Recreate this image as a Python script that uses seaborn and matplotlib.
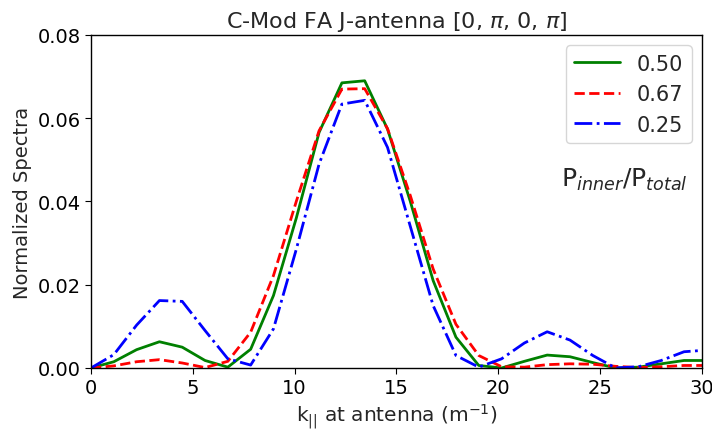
import matplotlib
matplotlib.use("Agg")
import matplotlib.pyplot as plt
import seaborn as sns
import pandas as pd

k_vals = [0.0, 1.12, 2.24, 3.36, 4.48, 5.6, 6.72, 7.84, 8.96, 10.08, 11.2, 12.32, 13.44,
          14.56, 15.68, 16.8, 17.92, 19.04, 20.16, 21.28, 22.4, 23.52, 24.64, 25.76,
          26.88, 28.0, 29.12, 30.24]

spec_050 = [0.0, 0.0015, 0.0044, 0.0063, 0.0050, 0.0018, 0.0002, 0.0045, 0.0174, 0.0360,
            0.0566, 0.0685, 0.0690, 0.0574, 0.0400, 0.0210, 0.0074, 0.0006, 0.0, 0.0016,
            0.0031, 0.0027, 0.0013, 0.0, 0.0002, 0.0010, 0.0018, 0.0018]

spec_067 = [0.0, 0.0005, 0.0015, 0.0020, 0.0012, 0.0001, 0.0016, 0.0086, 0.0222, 0.0400,
            0.0570, 0.0670, 0.0671, 0.0575, 0.0414, 0.0238, 0.0105, 0.0030, 0.0003, 0.0002,
            0.0008, 0.0010, 0.0009, 0.0004, 0.0001, 0.0003, 0.0006, 0.0006]

spec_025 = [0.0, 0.0032, 0.0103, 0.0162, 0.0160, 0.0090, 0.0022, 0.0007, 0.0094, 0.0285,
            0.0490, 0.0634, 0.0643, 0.0530, 0.0340, 0.0150, 0.0030, 0.0002, 0.0022, 0.0060,
            0.0087, 0.0067, 0.0030, 0.0, 0.0003, 0.0018, 0.0039, 0.0043]

labels = ["0.50", "0.67", "0.25"]
colors = ["green", "red", "blue"]
styles = ["-", "--", "-."]
x_ticks = [0, 5, 10, 15, 20, 25, 30]
y_ticks = [0.00, 0.02, 0.04, 0.06, 0.08]

sns.set_style("ticks")
plt.rcParams["font.family"] = ["DejaVu Sans"]

fig = plt.figure(figsize=(7.12, 4.31), dpi=100)
ax = fig.add_axes([0.1278, 0.1439, 0.8581, 0.7726])

for vals, lab, col, ls in zip([spec_050, spec_067, spec_025], labels, colors, styles):
    df = pd.DataFrame({"k": k_vals, "v": vals})
    sns.lineplot(data=df, x="k", y="v", ax=ax, color=col, linestyle=ls,
                 linewidth=2, label=lab)

ax.set_xlim(0, 30)
ax.set_ylim(0, 0.08)
ax.set_xticks(x_ticks)
ax.set_yticks(y_ticks)
ax.set_yticklabels([f"{t:.2f}" for t in y_ticks])
ax.tick_params(labelsize=14, direction="out", length=4, color="black", labelcolor="black")
for sp in ax.spines.values():
    sp.set_color("black")
    sp.set_linewidth(1)

ax.set_title(r"C-Mod FA J-antenna [0, $\pi$, 0, $\pi$]", fontsize=16)
ax.set_xlabel(r"k$_{||}$ at antenna (m$^{-1}$)", fontsize=14.5, labelpad=3)
ax.set_ylabel("Normalized Spectra", fontsize=14)

leg = ax.legend(loc="upper right", fontsize=15, handlelength=2.2, frameon=True)
leg.get_frame().set_edgecolor("#cccccc")

ax.text(0.977, 0.567, r"P$_{inner}$/P$_{total}$", transform=ax.transAxes,
        ha="right", va="center", fontsize=18)

fig.savefig("out.png", dpi=100)
